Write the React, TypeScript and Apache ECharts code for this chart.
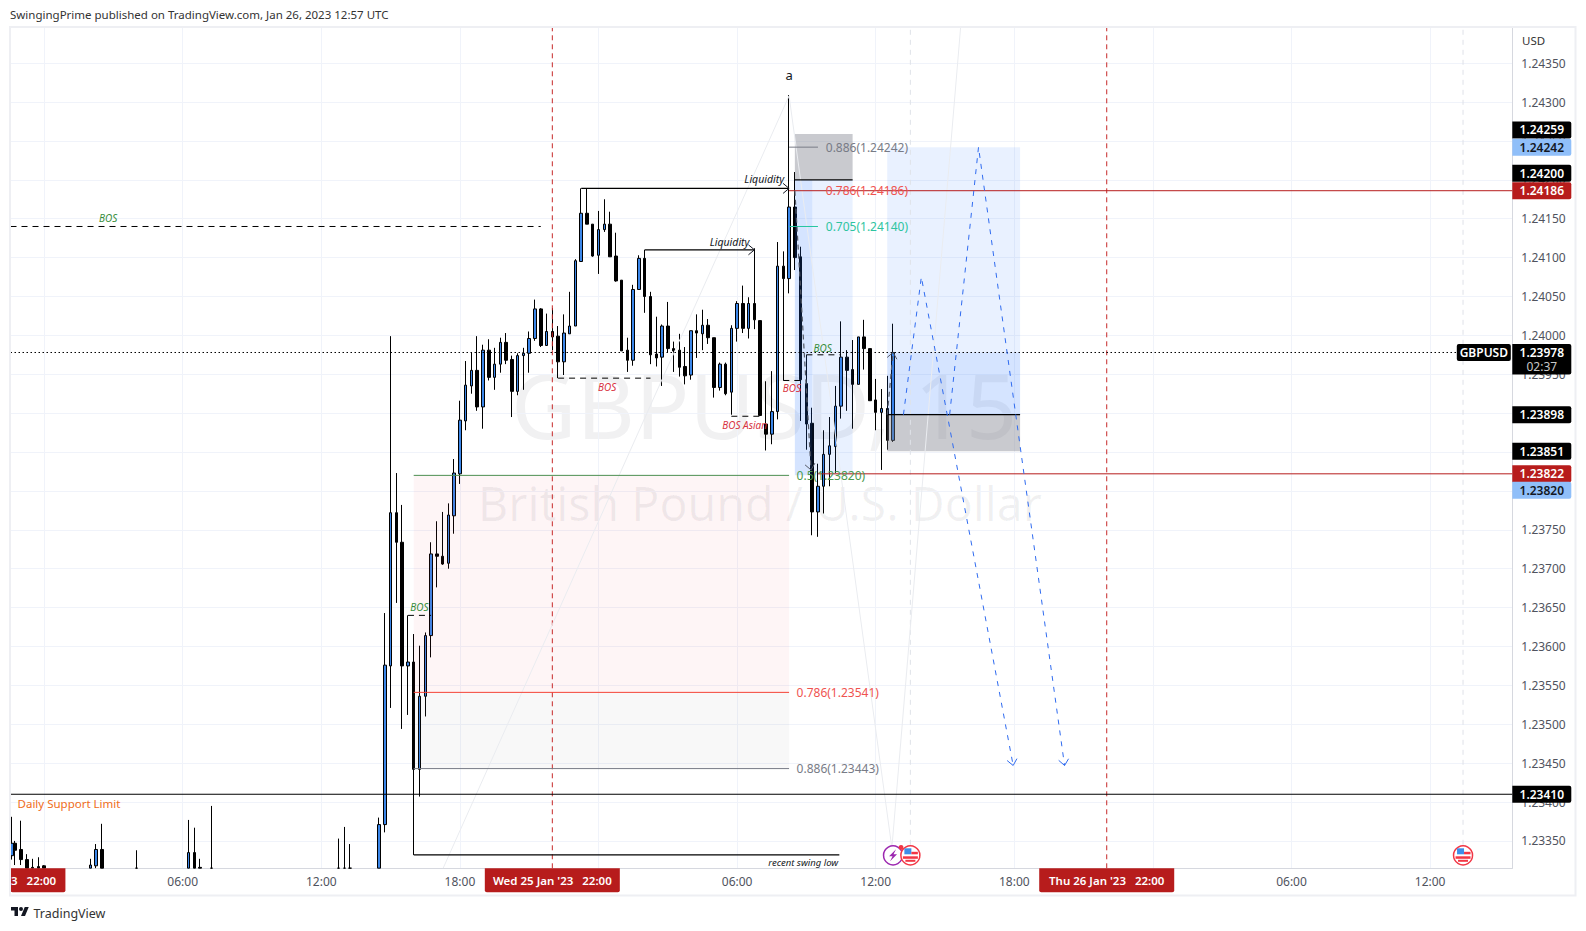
import React, { useEffect, useRef } from "react";
import * as echarts from "echarts";

// [bar, open, close, low, high]; bar 0 = Wed 25 Jan '23 22:00, one bar = 15 minutes
const candles: number[][] = [
  [-93.6,1.23331,1.23347,1.23326,1.23381],[-93,1.23347,1.23338,1.23319,1.2335],[-92,1.23339,1.23326,1.23319,1.23376],
  [-91,1.23326,1.23315,1.23315,1.23333],[-90,1.23316,1.23315,1.23315,1.23327],[-89,1.23317,1.23315,1.23315,1.23329],
  [-88,1.23318,1.23315,1.23315,1.23319],[-80,1.23315,1.23319,1.23315,1.23327],[-79,1.23318,1.23339,1.23315,1.23346],
  [-78,1.23339,1.23315,1.23315,1.23372],[-72,1.23315,1.23315,1.23315,1.23338],[-63,1.23315,1.23335,1.23315,1.23377],
  [-62,1.23335,1.23315,1.23315,1.23367],[-61,1.23316,1.23315,1.23315,1.23327],[-59,1.23315,1.23315,1.23315,1.23395],
  [-37,1.23315,1.23315,1.23315,1.23353],[-36,1.23315,1.23315,1.23315,1.23368],[-35,1.23315,1.23315,1.23315,1.23346],
  [-30,1.23315,1.23371,1.23315,1.2338],[-29,1.23371,1.23576,1.23361,1.23643],[-28,1.23575,1.23772,1.23521,1.23999],
  [-27,1.23772,1.23734,1.23656,1.23823],[-26,1.23734,1.23575,1.23494,1.23782],[-25,1.23575,1.2358,1.23512,1.2364],
  [-24,1.2358,1.23442,1.23332,1.23616],[-23,1.23442,1.23536,1.23407,1.23601],[-22,1.23536,1.23614,1.2351,1.23618],
  [-21,1.23614,1.23719,1.23586,1.23734],[-20,1.23719,1.23716,1.23676,1.23761],[-19,1.23716,1.23706,1.23705,1.23773],
  [-18,1.23707,1.23769,1.237,1.23784],[-17,1.23768,1.23823,1.23745,1.23841],[-16,1.23822,1.23891,1.23809,1.23916],
  [-15,1.2389,1.23936,1.23878,1.23967],[-14,1.23935,1.23955,1.23925,1.23978],[-13,1.23955,1.23908,1.23903,1.23999],
  [-12,1.23908,1.23981,1.2388,1.23988],[-11,1.23981,1.23946,1.23942,1.23995],[-10,1.23946,1.23963,1.2393,1.23984],
  [-9,1.23963,1.23991,1.23952,1.23997],[-8,1.23991,1.23968,1.23963,1.24003],[-7,1.23969,1.23928,1.23895,1.23974],
  [-6,1.23928,1.23974,1.23923,1.23977],[-5,1.23974,1.23977,1.2393,1.23984],[-4,1.23977,1.23996,1.23952,1.24005],
  [-3,1.23996,1.24034,1.23993,1.24046],[-2,1.24034,1.23987,1.23985,1.24035],[-1,1.23987,1.24005,1.23987,1.24028],
  [0,1.24005,1.23998,1.23981,1.24035],[1,1.23999,1.23966,1.23945,1.24012],[2,1.23966,1.24003,1.23949,1.24027],
  [3,1.24002,1.24012,1.24002,1.24056],[4,1.24012,1.24096,1.24012,1.24098],[5,1.24095,1.24157,1.24095,1.24189],
  [6,1.24157,1.24143,1.24143,1.24189],[7,1.24143,1.24102,1.24101,1.24143],[8,1.24103,1.24136,1.24079,1.2416],
  [9,1.24136,1.24143,1.24133,1.24175],[10,1.24143,1.24101,1.24101,1.24159],[11,1.24102,1.2407,1.24069,1.24132],
  [12,1.24071,1.2398,1.2398,1.24071],[13,1.23981,1.23968,1.23953,1.23997],[14,1.23968,1.24059,1.23961,1.24065],
  [15,1.24059,1.24099,1.24059,1.24103],[16,1.24099,1.2405,1.24029,1.2411],[17,1.2405,1.23975,1.23963,1.24056],
  [18,1.23976,1.23971,1.2396,1.24024],[19,1.23972,1.24012,1.23935,1.24014],[20,1.24012,1.23983,1.23978,1.24043],
  [21,1.23983,1.2398,1.23953,1.23992],[22,1.23981,1.23959,1.23947,1.24002],[23,1.2396,1.23948,1.23937,1.23985],
  [24,1.23949,1.24006,1.23943,1.24006],[25,1.24006,1.24003,1.23971,1.24027],[26,1.24002,1.24013,1.23981,1.24033],
  [27,1.24013,1.23997,1.23989,1.24021],[28,1.23997,1.23933,1.2392,1.23997],[29,1.23933,1.23963,1.23929,1.23965],
  [30,1.23963,1.23925,1.23923,1.23965],[31,1.23927,1.24009,1.23898,1.24013],[32,1.24009,1.24041,1.23992,1.24044],
  [33,1.24041,1.24009,1.24003,1.24064],[34,1.24009,1.24041,1.23996,1.24049],[35,1.24041,1.2402,1.24008,1.24112],
  [36,1.24019,1.23897,1.23897,1.24019],[37,1.23886,1.23873,1.23852,1.23941],[38,1.23873,1.23902,1.2386,1.23954],
  [39,1.23902,1.24089,1.23892,1.2412],[40,1.24089,1.24073,1.23942,1.24108],[41,1.24073,1.24165,1.24054,1.24309],
  [42,1.24165,1.241,1.24084,1.2421],[43,1.24101,1.23943,1.2389,1.24114],[44,1.23938,1.23886,1.23853,1.23975],
  [45,1.23887,1.23773,1.23743,1.23907],[46,1.23773,1.23806,1.23741,1.23835],[47,1.23806,1.23847,1.23771,1.23878],
  [48,1.23847,1.23858,1.23806,1.23895],[49,1.23857,1.23909,1.23823,1.23935],[50,1.23909,1.23972,1.23893,1.24018],
  [51,1.23972,1.23955,1.23903,1.23981],[52,1.23956,1.23937,1.2388,1.23994],[53,1.23937,1.23998,1.23937,1.23998],
  [54,1.23998,1.23983,1.23956,1.2402],[55,1.23983,1.23916,1.23916,1.23983],[56,1.23917,1.23901,1.23878,1.23944],
  [57,1.23901,1.23906,1.23827,1.23931],[58,1.23906,1.23865,1.23853,1.23948],[59,1.23865,1.23978,1.23863,1.24015],
];

const priceTicks = [1.2335,1.234,1.2345,1.235,1.2355,1.236,1.2365,1.237,1.2375,1.238,1.2385,1.239,1.2395,1.24,1.2405,1.241,1.2415,1.242,1.2425,1.243,1.2435];
const timeGridBars = [-88,-64,-40,-16,8,32,56,80,104,128,152];
const timeLabelBars = [-64,-40,-16,32,56,80,128,152];
const timeLabels = ["06:00","12:00","18:00","06:00","12:00","18:00","06:00","12:00"];
const sessionBars = [-96,0,96];
const sessionLabels = ["3   22:00","Wed 25 Jan '23   22:00","Thu 26 Jan '23   22:00"];

const barRange = [-93.82, 166.23];
const priceRange = [1.233148, 1.243961];

const zones = [
  { from:-24, to:41, hi:1.2382, lo:1.23541, kind:"pink" },
  { from:-24, to:41, hi:1.23541, lo:1.23443, kind:"pale" },
  { from:42, to:52, hi:1.24259, lo:1.242, kind:"gray" },
  { from:42, to:52, hi:1.242, lo:1.2382, kind:"blue" },
  { from:42, to:45, hi:1.242, lo:1.2382, kind:"blue" },
  { from:58, to:81, hi:1.24242, lo:1.23898, kind:"blue" },
  { from:58, to:81, hi:1.23978, lo:1.23898, kind:"blue" },
  { from:58, to:81, hi:1.23898, lo:1.23851, kind:"gray" },
];

const lines: { pts:number[][]; kind:string }[] = [
  { pts:[[0,1.233148],[0,1.243961]], kind:"session" },
  { pts:[[96,1.233148],[96,1.243961]], kind:"session" },
  { pts:[[62,1.23345],[62,1.243961]], kind:"event" },
  { pts:[[157.7,1.23345],[157.7,1.243961]], kind:"event" },
  { pts:[[-18.9,1.23315],[41,1.24308],[58.8,1.23341],[70.7,1.24396]], kind:"faint" },
  { pts:[[-93.82,1.23978],[156.5,1.23978]], kind:"dots" },
  { pts:[[-93.82,1.2341],[166.23,1.2341]], kind:"black" },
  { pts:[[41,1.24186],[166.23,1.24186]], kind:"darkred" },
  { pts:[[46,1.23822],[166.23,1.23822]], kind:"darkred" },
  { pts:[[-24,1.2382],[41,1.2382]], kind:"green" },
  { pts:[[-24,1.23541],[41,1.23541]], kind:"red" },
  { pts:[[-24,1.23443],[41,1.23443]], kind:"grayline" },
  { pts:[[41,1.24242],[46,1.24242]], kind:"grayline" },
  { pts:[[41,1.2414],[46,1.2414]], kind:"teal" },
  { pts:[[42,1.242],[52,1.242]], kind:"black" },
  { pts:[[58,1.23898],[81,1.23898]], kind:"black" },
  { pts:[[-93.82,1.2414],[-2,1.2414]], kind:"dash" },
  { pts:[[5,1.24189],[41,1.24189]], kind:"black" },
  { pts:[[16,1.2411],[35,1.2411]], kind:"black" },
  { pts:[[1,1.23945],[17,1.23945]], kind:"dash" },
  { pts:[[31,1.23896],[36,1.23896]], kind:"dash" },
  { pts:[[40,1.23942],[43,1.23942]], kind:"dash" },
  { pts:[[44,1.23975],[50,1.23975]], kind:"dash" },
  { pts:[[-25,1.2364],[-21,1.2364]], kind:"dash" },
  { pts:[[-24,1.23332],[49.7,1.23332]], kind:"black" },
  { pts:[[42,1.24186],[44.8,1.23827]], kind:"graydash" },
  { pts:[[58,1.23898],[59,1.23978]], kind:"graydash" },
  { pts:[[60.8,1.23898],[63.9,1.24075],[79.8,1.23447]], kind:"bluedash" },
  { pts:[[68.8,1.23898],[73.8,1.24242],[88.7,1.23447]], kind:"bluedash" },
];

const arrows = [
  { bar:41, price:1.24189, angle:0, kind:"black" },
  { bar:35, price:1.2411, angle:0, kind:"black" },
  { bar:44.8, price:1.23827, angle:80, kind:"gray" },
  { bar:59, price:1.23978, angle:-80, kind:"gray" },
  { bar:79.8, price:1.23447, angle:79, kind:"blue" },
  { bar:88.7, price:1.23447, angle:81, kind:"blue" },
];

const notes = [
  { bar:41, price:1.24335, text:"a", kind:"mark" },
  { bar:-76.9, price:1.24151, text:"BOS", kind:"bosGreen" },
  { bar:36.7, price:1.24201, text:"Liquidity", kind:"liq" },
  { bar:30.7, price:1.2412, text:"Liquidity", kind:"liq" },
  { bar:9.5, price:1.23934, text:"BOS", kind:"bosRed" },
  { bar:33.3, price:1.23885, text:"BOS Asian", kind:"bosRed" },
  { bar:41.5, price:1.23932, text:"BOS", kind:"bosRed" },
  { bar:46.8, price:1.23984, text:"BOS", kind:"bosGreen" },
  { bar:-23, price:1.23651, text:"BOS", kind:"bosGreen" },
  { bar:49.5, price:1.23322, text:"recent swing low", kind:"swing" },
  { bar:-92.6, price:1.23398, text:"Daily Support Limit", kind:"support" },
  { bar:42.3, price:1.23443, text:"0.886(1.23443)", kind:"fibGray" },
  { bar:42.3, price:1.23541, text:"0.786(1.23541)", kind:"fibRed" },
  { bar:42.3, price:1.2382, text:"0.5(1.23820)", kind:"fibGreen" },
  { bar:47.35, price:1.24242, text:"0.886(1.24242)", kind:"fibGray" },
  { bar:47.35, price:1.24186, text:"0.786(1.24186)", kind:"fibRed" },
  { bar:47.35, price:1.2414, text:"0.705(1.24140)", kind:"fibTeal" },
];

const badgePrices = [1.24259,1.24242,1.242,1.24186,1.23978,1.23898,1.23851,1.23822,1.2382,1.2341];
const badgeKinds = ["black","blue","black","red","black","black","black","red","blue","black"];
const eventBars = [59,62,157.7];
const eventKinds = ["bolt","flag","flag"];

const FONT = '"Noto Sans", sans-serif';
const zoneFill: Record<string,string> = {
  pink:"rgba(242,54,69,0.05)", pale:"rgba(120,123,134,0.055)",
  gray:"rgba(120,123,134,0.4)", blue:"rgba(41,120,255,0.1)",
};
const lineStyles: Record<string,any> = {
  session:{ color:"#c62828", width:1, type:[5,4] },
  event:{ color:"#dfe2e8", width:1, type:[5,5] },
  faint:{ color:"#eaecf0", width:1 },
  dots:{ color:"#000000", width:1, type:[1.5,2.5] },
  black:{ color:"#000000", width:1.2 },
  darkred:{ color:"#b71c1c", width:1 },
  green:{ color:"#4c8f50", width:1 },
  red:{ color:"#f44336", width:1 },
  grayline:{ color:"#787b86", width:1 },
  teal:{ color:"#26c6a0", width:1 },
  dash:{ color:"#000000", width:1, type:[6,5] },
  graydash:{ color:"#555a66", width:1.2, type:[5,4] },
  bluedash:{ color:"#2f6bf0", width:1, type:[5,6] },
};
const arrowColor: Record<string,string> = { black:"#131722", gray:"#555a66", blue:"#2f6bf0" };
const noteStyle: Record<string,any> = {
  mark:{ fill:"#131722", font:`13px ${FONT}`, textAlign:"center" },
  bosGreen:{ fill:"#388e3c", font:`italic 10px ${FONT}`, textAlign:"center" },
  bosRed:{ fill:"#d8333f", font:`italic 10px ${FONT}`, textAlign:"center" },
  liq:{ fill:"#131722", font:`italic 10.5px ${FONT}`, textAlign:"center" },
  swing:{ fill:"#131722", font:`italic 9.5px ${FONT}`, textAlign:"right" },
  support:{ fill:"#ef6c20", font:`11.5px ${FONT}`, textAlign:"left" },
  fibGray:{ fill:"#787b86", font:`12px ${FONT}`, textAlign:"left" },
  fibRed:{ fill:"#ef5350", font:`12px ${FONT}`, textAlign:"left" },
  fibGreen:{ fill:"#4c9a50", font:`12px ${FONT}`, textAlign:"left" },
  fibTeal:{ fill:"#2ec4a0", font:`12px ${FONT}`, textAlign:"left" },
};
const badgeFill: Record<string,string> = { black:"#000000", blue:"#90bff9", red:"#b71c1c" };
const badgeNudge: Record<string,number> = { "1.24259":-4, "1.24200":-6.5, "1.23820":15 };

echarts.graphic.registerShape(
  "tvLogo",
  echarts.graphic.extendPath("M14 22H7V11H0V4h14zM28 22h-8l7.5-18h8zM20 4a4 4 0 1 0 0 8a4 4 0 0 0 0-8z", {}) as any
);

function buildOption() {
  const zoneSeries = {
    type:"custom", z:4, silent:true, clip:true,
    data:zones.map(z=>[z.from,z.to,z.hi,z.lo]),
    encode:{ x:[0,1], y:[2,3] },
    renderItem(params:any, api:any){
      const a = api.coord([api.value(0),api.value(2)]);
      const b = api.coord([api.value(1),api.value(3)]);
      return { type:"rect", shape:{ x:a[0], y:a[1], width:b[0]-a[0], height:b[1]-a[1] },
        style:{ fill:zoneFill[zones[params.dataIndex].kind] } };
    },
  };
  const lineSeries = lines.map(l=>({
    type:"line", data:l.pts, symbol:"none", silent:true, z:5, lineStyle:lineStyles[l.kind], clip:true,
  }));
  const arrowSeries = {
    type:"custom", z:6, silent:true,
    data:arrows.map(a=>[a.bar,a.price]),
    encode:{ x:0, y:1 },
    renderItem(params:any, api:any){
      const p = api.coord([api.value(0),api.value(1)]);
      const a = arrows[params.dataIndex];
      const t = a.angle*Math.PI/180;
      const pt = (dx:number,dy:number)=>[p[0]+dx*Math.cos(t)-dy*Math.sin(t), p[1]+dx*Math.sin(t)+dy*Math.cos(t)];
      return { type:"polyline", shape:{ points:[pt(-6,-5),pt(0,0),pt(-6,5)] },
        style:{ stroke:arrowColor[a.kind], lineWidth:1, fill:null } };
    },
  };
  const noteSeries = {
    type:"custom", z:7, silent:true,
    data:notes.map(n=>[n.bar,n.price]),
    encode:{ x:0, y:1 },
    renderItem(params:any, api:any){
      const p = api.coord([api.value(0),api.value(1)]);
      const n = notes[params.dataIndex];
      return { type:"text", x:p[0], y:p[1], style:{ text:n.text, textVerticalAlign:"middle", ...noteStyle[n.kind] } };
    },
  };
  const badgeSeries = {
    type:"custom", z:20, silent:true, clip:false,
    data:badgePrices.map(p=>[barRange[1],p]),
    encode:{ x:0, y:1 },
    renderItem(params:any, api:any){
      const price = api.value(1);
      const label = price.toFixed(5);
      const c = api.coord([barRange[1],price]);
      const kind = badgeKinds[params.dataIndex];
      const cy = c[1]+(badgeNudge[label]||0);
      const x0 = params.coordSys.x+params.coordSys.width;
      const children:any[] = [];
      const live = label==="1.23978";
      children.push({ type:"rect", shape:{ x:x0, y:cy-8.5, width:59, height:live?30.5:17, r:[0,2,2,0] }, style:{ fill:badgeFill[kind] } });
      children.push({ type:"text", x:x0+29.5, y:cy, style:{ text:label, fill:kind==="blue"?"#131722":"#ffffff", font:`600 12px ${FONT}`, textAlign:"center", textVerticalAlign:"middle" } });
      if (live) {
        children.push({ type:"text", x:x0+29.5, y:cy+14, style:{ text:"02:37", fill:"#c8c8c8", font:`12px ${FONT}`, textAlign:"center", textVerticalAlign:"middle" } });
        children.push({ type:"rect", shape:{ x:x0-55.5, y:cy-8.5, width:54, height:17, r:2 }, style:{ fill:"#000000" } });
        children.push({ type:"text", x:x0-28.5, y:cy, style:{ text:"GBPUSD", fill:"#ffffff", font:`600 12px ${FONT}`, textAlign:"center", textVerticalAlign:"middle" } });
      }
      return { type:"group", children };
    },
  };
  const sessionSeries = {
    type:"custom", z:20, silent:true, clip:false,
    data:sessionBars.map(b=>[b,priceRange[0]]),
    encode:{ x:0, y:1 },
    renderItem(params:any, api:any){
      const c = api.coord([api.value(0),priceRange[0]]);
      const i = params.dataIndex;
      const left = Math.max(10.5,c[0]-67.5);
      const right = c[0]+67.5;
      const font = `600 11.5px ${FONT}`;
      const textEl = i===0
        ? { type:"text", x:11, y:c[1]+12, style:{ text:sessionLabels[i], fill:"#ffffff", font, textAlign:"left", textVerticalAlign:"middle" } }
        : { type:"text", x:c[0], y:c[1]+12, style:{ text:sessionLabels[i], fill:"#ffffff", font, textAlign:"center", textVerticalAlign:"middle" } };
      return { type:"group", children:[
        { type:"rect", shape:{ x:left, y:c[1], width:right-left, height:24, r:[0,0,2,2] }, style:{ fill:"#b71c1c" } },
        textEl,
      ] };
    },
  };
  const eventSeries = {
    type:"custom", z:21, silent:true, clip:false,
    data:eventBars.map(b=>[b,1.23345]),
    encode:{ x:0, y:1 },
    renderItem(params:any, api:any){
      const c = api.coord([api.value(0),priceRange[0]]);
      const x = c[0], y = c[1]-13;
      if (eventKinds[params.dataIndex]==="bolt") {
        return { type:"group", children:[
          { type:"circle", shape:{ cx:x, cy:y, r:9.5 }, style:{ fill:"#ffffff", stroke:"#9c27b0", lineWidth:1.5 } },
          { type:"polygon", shape:{ points:[[x+3,y-6],[x-4,y+1],[x-0.5,y+1],[x-3,y+6],[x+4,y-1],[x+0.5,y-1]] }, style:{ fill:"#9c27b0" } },
          { type:"circle", shape:{ cx:x+8,cy:y-8, r:2.4 }, style:{ fill:"#f23645" } },
        ] };
      }
      return { type:"group", children:[
        { type:"circle", shape:{ cx:x, cy:y, r:9.5 }, style:{ fill:"#ffffff", stroke:"#f23645", lineWidth:1.5 } },
        { type:"rect", shape:{ x:x-6, y:y-7, width:7, height:6 }, style:{ fill:"#3d8ee8" } },
        { type:"rect", shape:{ x:x+1, y:y-3.5, width:6.5, height:2.5 }, style:{ fill:"#f23645" } },
        { type:"rect", shape:{ x:x-7.5, y:y+1, width:15, height:2.5 }, style:{ fill:"#f23645" } },
        { type:"rect", shape:{ x:x-5, y:y+4.5, width:10, height:2 }, style:{ fill:"#f23645" } },
      ] };
    },
  };

  return {
    animation:false,
    backgroundColor:"#ffffff",
    grid:{ left:10.5, right:73.7, top:27.3, bottom:62.7 },
    xAxis:{
      type:"value", min:barRange[0], max:barRange[1], position:"bottom",
      axisLine:{ show:true, onZero:false, lineStyle:{ color:"#d6d8df" } },
      axisTick:{ show:false, customValues:timeGridBars },
      splitLine:{ show:true, lineStyle:{ color:"#f0f3fa", width:1 } },
      axisLabel:{
        customValues:timeLabelBars, margin:7, color:"#50535e", fontFamily:FONT, fontSize:12,
        formatter:(v:number)=>timeLabels[timeLabelBars.indexOf(v)] ?? "",
      },
    },
    yAxis:{
      type:"value", min:priceRange[0], max:priceRange[1], position:"right",
      axisLine:{ show:true, onZero:false, lineStyle:{ color:"#d6d8df" } },
      axisTick:{ show:false, customValues:priceTicks },
      splitLine:{ show:true, lineStyle:{ color:"#f0f3fa", width:1 } },
      axisLabel:{
        customValues:priceTicks, margin:9, color:"#50535e", fontFamily:FONT, fontSize:12,
        formatter:(v:number)=>v.toFixed(5),
      },
    },
    graphic:{ elements:[
      { type:"text", z:-1, x:764, y:404, style:{ text:"GBPUSD, 15", fill:"rgba(19,23,34,0.06)", font:`90px ${FONT}`, textAlign:"center", textVerticalAlign:"middle" } },
      { type:"text", z:-1, x:760, y:503, style:{ text:"British Pound / U.S. Dollar", fill:"rgba(19,23,34,0.06)", font:`46.5px ${FONT}`, textAlign:"center", textVerticalAlign:"middle" } },
      { type:"rect", z:30, shape:{ x:10, y:27, width:1565.5, height:868.5 }, style:{ fill:null, stroke:"#eeeff3", lineWidth:2 } },
      { type:"text", z:30, x:10, y:14.5, style:{ text:"SwingingPrime published on TradingView.com, Jan 26, 2023 12:57 UTC", fill:"#333333", font:`11.5px ${FONT}`, textAlign:"left", textVerticalAlign:"middle" } },
      { type:"text", z:30, x:1522, y:40.5, style:{ text:"USD", fill:"#333333", font:`11.5px ${FONT}`, textAlign:"left", textVerticalAlign:"middle" } },
      { type:"tvLogo", z:30, x:11, y:905, scaleX:0.5, scaleY:0.5, style:{ fill:"#131722" } },
      { type:"text", z:30, x:33.5, y:913, style:{ text:"TradingView", fill:"#333333", font:`12.5px ${FONT}`, textAlign:"left", textVerticalAlign:"middle" } },
    ] },
    series:[
      {
        type:"candlestick", z:3, silent:true, barWidth:3,
        data:candles,
        itemStyle:{ color:"#3b86e8", color0:"#000000", borderColor:"#000000", borderColor0:"#000000", borderWidth:1 },
      },
      zoneSeries, ...lineSeries, arrowSeries, noteSeries, eventSeries, sessionSeries, badgeSeries,
    ],
  };
}

export default function App() {
  const ref = useRef<HTMLDivElement>(null);
  useEffect(()=>{
    const chart = echarts.init(ref.current!, undefined, { renderer:"svg" });
    chart.setOption(buildOption() as any);
    return ()=>chart.dispose();
  },[]);
  return <div ref={ref} style={{ position:"absolute", left:0, top:0, width:1586, height:931 }} />;
}
